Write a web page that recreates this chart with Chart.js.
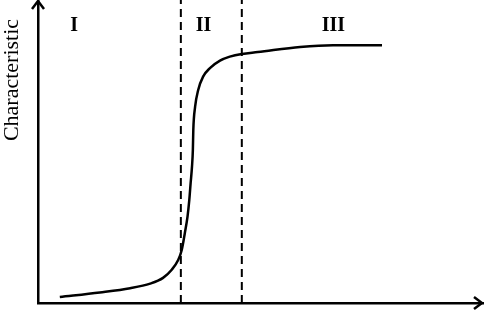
<!DOCTYPE html>
<html>
<head>
<meta charset="utf-8">
<script src="https://cdn.jsdelivr.net/npm/chart.js"></script>
<style>
    html, body { margin: 0; padding: 0; background: #fff; }
    #wrap { width: 484px; height: 315px; }
</style>
</head>
<body>
<div id="wrap"><canvas id="lineChart"></canvas></div>
<script>
    // curve, arbitrary units (0-100 on both axes)
    var curveX = [4.9, 13.9, 20.7, 25.2, 28.1, 30.0, 31.5, 32.3, 33.0, 33.6, 34.0, 34.3, 34.6, 34.8, 34.9, 35.3, 36.0, 37.1, 38.7, 40.9, 43.1, 45.8, 49.4, 58.9, 66.3, 77.3];
    var curveY = [2.0, 3.5, 4.9, 6.4, 8.3, 10.9, 14.2, 17.5, 23.1, 28.5, 34.0, 39.6, 44.9, 50.5, 57.1, 64.7, 70.3, 74.7, 77.6, 80.0, 81.3, 82.2, 82.8, 84.5, 85.1, 85.1];

    // dashed region boundaries
    var boundaryX = [32.1, 45.8];

    // region labels
    var regionLabels = ['I', 'II', 'III'];
    var regionX = [8.1, 37.2, 66.4];
    var regionY = 91.4;

    var yAxisLabel = 'Characteristic';

    document.addEventListener('DOMContentLoaded', function () {
        createLineChart();
    });

    function createLineChart() {
        var curve = [];
        for (var i = 0; i < curveX.length; i++) {
            curve.push({ x: curveX[i], y: curveY[i] });
        }

        var datasets = [{
            data: curve,
            borderColor: '#000',
            borderWidth: 2.5,
            pointRadius: 0,
            cubicInterpolationMode: 'monotone',
            fill: false
        }];

        boundaryX.forEach(function (bx) {
            datasets.push({
                data: [{ x: bx, y: 0 }, { x: bx, y: 100 }],
                borderColor: '#000',
                borderWidth: 2,
                borderDash: [8, 5],
                pointRadius: 0,
                fill: false
            });
        });

        // arrows, region labels and axis label
        var extras = {
            id: 'extras',
            afterDraw: function (chart) {
                var ctx = chart.ctx;
                var a = chart.chartArea;
                var xs = chart.scales.x;
                var ys = chart.scales.y;
                ctx.save();
                ctx.strokeStyle = '#000';
                ctx.lineWidth = 2.5;
                ctx.beginPath();
                ctx.moveTo(a.left - 6, a.top + 9);
                ctx.lineTo(a.left, a.top + 1);
                ctx.lineTo(a.left + 6, a.top + 9);
                ctx.moveTo(a.right - 9, a.bottom - 6);
                ctx.lineTo(a.right - 1, a.bottom);
                ctx.lineTo(a.right - 9, a.bottom + 6);
                ctx.stroke();

                ctx.fillStyle = '#000';
                ctx.textAlign = 'center';
                ctx.textBaseline = 'middle';
                ctx.font = 'bold 20px "Liberation Serif"';
                for (var i = 0; i < regionLabels.length; i++) {
                    ctx.fillText(regionLabels[i], xs.getPixelForValue(regionX[i]), ys.getPixelForValue(regionY));
                }

                ctx.font = '22px "Liberation Serif"';
                ctx.translate(12, 80);
                ctx.rotate(-Math.PI / 2);
                ctx.fillText(yAxisLabel, 0, 0);
                ctx.restore();
            }
        };

        var ctx = document.getElementById('lineChart').getContext('2d');
        new Chart(ctx, {
            type: 'line',
            data: { datasets: datasets },
            options: {
                responsive: true,
                maintainAspectRatio: false,
                animation: false,
                layout: { padding: { left: 38, right: 1, top: 0, bottom: 12 } },
                plugins: {
                    legend: { display: false },
                    tooltip: { enabled: false }
                },
                scales: {
                    x: {
                        type: 'linear',
                        min: 0,
                        max: 100,
                        grid: { display: false, drawTicks: false },
                        ticks: { display: false },
                        border: { display: true, color: '#000', width: 2.5 }
                    },
                    y: {
                        min: 0,
                        max: 100,
                        grid: { display: false, drawTicks: false },
                        ticks: { display: false },
                        border: { display: true, color: '#000', width: 2.5 }
                    }
                }
            },
            plugins: [extras]
        });
    }
</script>
</body>
</html>
